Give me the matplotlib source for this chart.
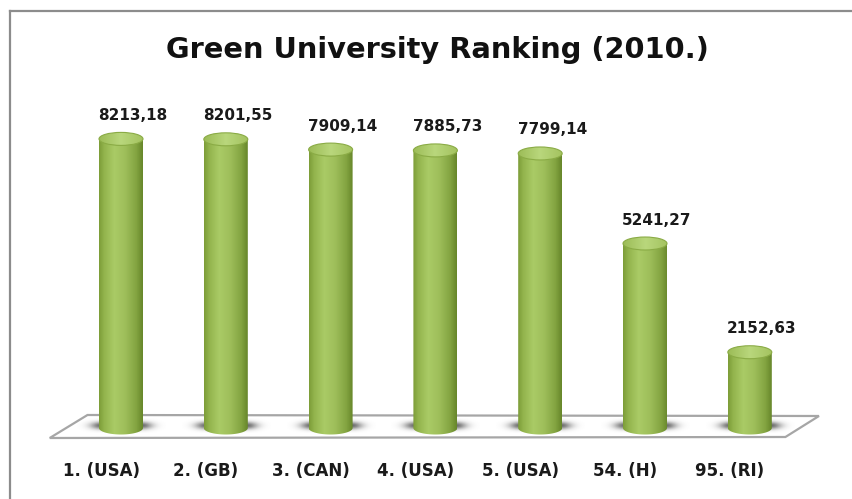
import numpy as np
import matplotlib
matplotlib.use("Agg")
import matplotlib.pyplot as plt
from matplotlib.path import Path
from matplotlib.patches import PathPatch, Ellipse, Polygon
from matplotlib.colors import LinearSegmentedColormap
from matplotlib.lines import Line2D
import matplotlib.transforms as mtransforms

plt.rcParams['font.family'] = ['DejaVu Sans']

# data
universities = ['1. (USA)', '2. (GB)', '3. (CAN)', '4. (USA)', '5. (USA)', '54. (H)', '95. (RI)']
scores = [8213.18, 8201.55, 7909.14, 7885.73, 7799.14, 5241.27, 2152.63]
score_labels = ['8213,18', '8201,55', '7909,14', '7885,73', '7799,14', '5241,27', '2152,63']

W, H = 853, 499
fig = plt.figure(figsize=(W / 100, H / 100), dpi=100)
ax = fig.add_axes([0, 0, 1, 1])

# pixel layout of the plot area
x0_px, step_px = 121, 104.8
base_px, k = 428, 0.0352        # px per score unit
ax.set_xlim(-x0_px / step_px, (W - x0_px) / step_px)
ax.set_ylim(-(H - base_px) / k, base_px / k)
ax.axis('off')

n = len(scores)
bw = 44 / step_px               # bar width in x units
eh = 13 / k                     # ellipse height in y units

# floor
floor = Polygon([(-0.68, -10 / k), (n - 1 + 0.34, -9 / k),
                 (n - 1 + 0.66, 12 / k), (-0.32, 13 / k)],
                closed=True, facecolor='white', edgecolor='#a6a6a6', lw=1.6, zorder=1)
ax.add_patch(floor)

body_cmap = LinearSegmentedColormap.from_list('body', [
    (0.0, '#7c9c38'), (0.12, '#93b44d'), (0.35, '#aacb66'),
    (0.6, '#9ebe5a'), (0.85, '#83a441'), (1.0, '#66862a')])
top_cmap = LinearSegmentedColormap.from_list('top', [
    (0.0, '#9cbc57'), (0.5, '#b9d77c'), (1.0, '#a4c360')])

grad = np.linspace(0, 1, 256).reshape(1, -1)
t = np.linspace(np.pi, 2 * np.pi, 60)

# soft shadow image (same for every bar)
sx = np.linspace(-1, 1, 200)
sy = np.linspace(-1, 1, 40)
gx, gy = np.meshgrid(sx, sy)
shadow = np.zeros((40, 200, 4))
shadow[..., :3] = 0.35
shadow[..., 3] = 0.9 * np.exp(-(np.maximum(np.abs(gx) - 0.45, 0) / 0.25) ** 2
                              - (gy / 0.5) ** 2)

for i, v in enumerate(scores):
    xl, xr = i - bw / 2, i + bw / 2

    ax.imshow(shadow, extent=[i - 0.42, i + 0.42, -eh * 0.4, eh * 0.7],
              aspect='auto', zorder=2, interpolation='bilinear')

    # cylinder body
    verts = [(xl, v), (xl, 0)]
    verts += list(zip(i + bw / 2 * np.cos(t), eh / 2 * np.sin(t)))
    verts += [(xr, 0), (xr, v), (xl, v)]
    codes = [Path.MOVETO] + [Path.LINETO] * (len(verts) - 2) + [Path.CLOSEPOLY]
    body = PathPatch(Path(verts, codes), facecolor='none', edgecolor='none', zorder=3)
    ax.add_patch(body)
    im = ax.imshow(grad, cmap=body_cmap, extent=[xl, xr, -eh, v],
                   aspect='auto', zorder=3, interpolation='bilinear')
    im.set_clip_path(body)

    # top cap
    cap = Ellipse((i, v), bw, eh, facecolor='none', edgecolor='#8aab45', lw=0.8, zorder=5)
    ax.add_patch(cap)
    cim = ax.imshow(grad, cmap=top_cmap, extent=[xl, xr, v - eh / 2, v + eh / 2],
                    aspect='auto', zorder=4, interpolation='bilinear')
    cim.set_clip_path(cap)

    ax.annotate(score_labels[i], (i, v), xytext=(12, 16), textcoords='offset pixels',
                ha='center', va='bottom', fontsize=11, fontweight='bold', color='#1a1a1a',
                zorder=6)

# category labels
trans = mtransforms.blended_transform_factory(ax.transData, ax.transAxes)
for i, name in enumerate(universities):
    ax.text(i - 0.19, 1 - 471 / H, name, transform=trans, ha='center', va='center',
            fontsize=12, fontweight='bold', color='#1a1a1a')

fig.text(0.513, 1 - 50 / H, 'Green University Ranking (2010.)', ha='center', va='center',
         fontsize=20.8, fontweight='bold', color='#111111')

# chart border (only top and left visible)
fig.add_artist(Line2D([9.5 / W, 9.5 / W], [0, 1 - 11 / H], color='#8c8c8c', lw=1.6))
fig.add_artist(Line2D([9.5 / W, 1], [1 - 11 / H, 1 - 11 / H], color='#8c8c8c', lw=1.6))

fig.savefig('out.png', dpi=100)
